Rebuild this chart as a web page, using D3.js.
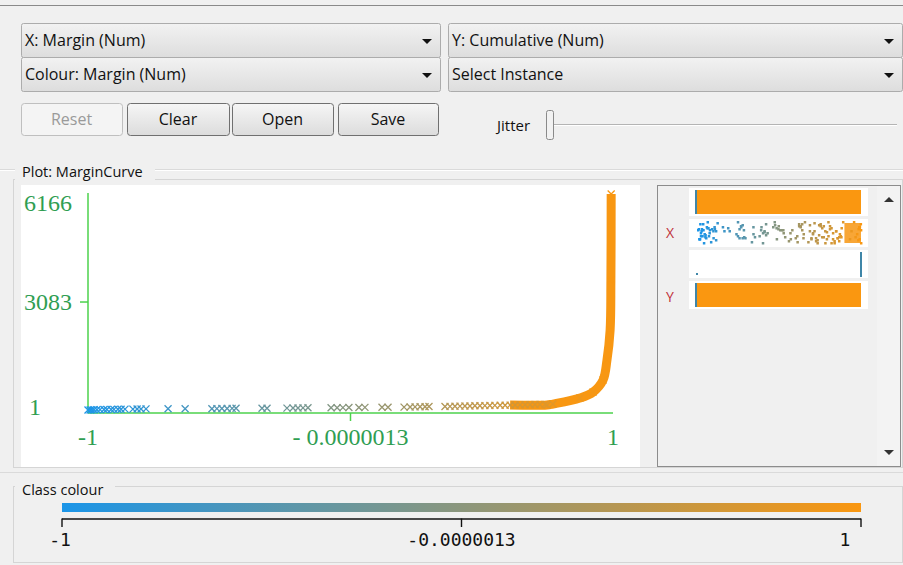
<!DOCTYPE html>
<html><head><meta charset="utf-8">
<script src="https://cdn.jsdelivr.net/npm/d3@7"></script>
<style>
html,body{margin:0;padding:0;background:#f0f0f0;}
svg{display:block;}
</style></head>
<body>
<svg id="chart" width="903" height="565"></svg>
<script>
// ---------------- data ----------------
const xTickLabels = ["-1", "- 0.0000013", "1"];
const xTickValues = [-1, -0.0000013, 1];
const yTickLabels = ["1", "3083", "6166"];
const yTickValues = [1, 3083, 6166];
const colourTickLabels = ["-1", "-0.0000013", "1"];

// sparse instances near the bottom (margin, cumulative count)
const sparseMargin = [-1.000,-0.992,-0.985,-0.977,-0.966,-0.954,-0.939,-0.928,-0.912,-0.901,-0.886,-0.874,-0.859,
  -0.829,-0.813,-0.798,-0.779,-0.695,-0.630,-0.528,-0.509,-0.490,-0.470,-0.451,-0.436,-0.337,-0.318,
  -0.242,-0.219,-0.200,-0.181,-0.162,-0.074,-0.051,-0.029,-0.006,0.032,0.055,0.120,0.143,0.204,0.227,
  0.246,0.265,0.284,0.299,0.360,0.379,0.398,0.417,0.436,0.455,0.474,0.493,0.512,0.531,0.550,0.570,
  0.589,0.608,0.627,0.646,0.665,0.684,0.703,0.722,0.741];
const sparseCumulative = [1,3,5,7,9,11,13,15,17,19,21,23,25,
  27,29,31,33,35,37,39,41,43,45,47,49,51,53,
  55,57,59,61,63,65,67,69,71,73,75,78,81,84,87,
  90,93,96,99,102,105,108,111,114,117,120,123,126,129,132,135,
  138,141,144,147,150,153,156,159,162];
// dense curve (margin, cumulative count)
const curveMargin =     [0.749, 0.771, 0.874, 0.924, 0.962, 0.977, 0.989, 0.992, 0.993];
const curveCumulative = [143,   171,   342,   513,   855,   1425,  2280,  3700,  6166];

// ---------------- drawing ----------------
const svg = d3.select("#chart");
const UI = "'Open Sans', 'Noto Sans', sans-serif";
const colour = d3.scaleLinear().domain([-1, 1]).range(["#1b95e8", "#fa9710"]).interpolate(d3.interpolateRgb);

const defs = svg.append("defs");
function vGrad(id, c1, c2){
  const g = defs.append("linearGradient").attr("id", id).attr("x1",0).attr("x2",0).attr("y1",0).attr("y2",1);
  g.append("stop").attr("offset","0%").attr("stop-color",c1);
  g.append("stop").attr("offset","100%").attr("stop-color",c2);
}
vGrad("combo", "#f2f2f2", "#dddddd");
vGrad("btn", "#f6f6f6", "#dcdcdc");

// background
svg.append("rect").attr("width",903).attr("height",565).attr("fill","#f0f0f0");
svg.append("line").attr("x1",0).attr("x2",903).attr("y1",5.5).attr("y2",5.5).attr("stroke","#8a8a8a");

// combo boxes
const combos = [
  {x:21, y:23, w:419, label:"X: Margin (Num)"},
  {x:21, y:57, w:419, label:"Colour: Margin (Num)"},
  {x:448, y:23, w:454, label:"Y: Cumulative (Num)"},
  {x:448, y:57, w:454, label:"Select Instance"}
];
combos.forEach(c => {
  svg.append("rect").attr("x",c.x+0.5).attr("y",c.y+0.5).attr("width",c.w).attr("height",34).attr("rx",2)
    .attr("fill","url(#combo)").attr("stroke","#acacac");
  svg.append("text").attr("x",c.x+4).attr("y",c.y+23).attr("font-family",UI).attr("font-size",16)
    .attr("fill","#111").text(c.label);
  const ax = c.x + c.w - 13, ay = c.y + 18;
  svg.append("path").attr("d",`M${ax-5},${ay-2}L${ax+5},${ay-2}L${ax},${ay+3}Z`).attr("fill","#111");
});

// buttons
const buttons = [
  {x:21, w:101, label:"Reset", disabled:true},
  {x:127, w:102, label:"Clear"},
  {x:232, w:101, label:"Open"},
  {x:338, w:100, label:"Save"}
];
buttons.forEach(b => {
  svg.append("rect").attr("x",b.x+0.5).attr("y",103.5).attr("width",b.w).attr("height",32).attr("rx",3)
    .attr("fill", b.disabled ? "#f4f4f4" : "url(#btn)").attr("stroke", b.disabled ? "#bfbfbf" : "#707070");
  svg.append("text").attr("x",b.x+b.w/2).attr("y",125).attr("text-anchor","middle")
    .attr("font-family",UI).attr("font-size",16).attr("fill", b.disabled ? "#9a9a9a" : "#111").text(b.label);
});

// jitter slider
svg.append("text").attr("x",497).attr("y",131).attr("font-family",UI).attr("font-size",15).attr("fill","#111").text("Jitter");
svg.append("line").attr("x1",553).attr("x2",897).attr("y1",124.5).attr("y2",124.5).attr("stroke","#b4b4b4");
svg.append("line").attr("x1",553).attr("x2",897).attr("y1",125.5).attr("y2",125.5).attr("stroke","#ffffff");
svg.append("rect").attr("x",546.5).attr("y",110.5).attr("width",7).attr("height",29).attr("rx",2)
  .attr("fill","#f2f2f2").attr("stroke","#8a8a8a");

// separator
svg.append("line").attr("x1",0).attr("x2",903).attr("y1",169.5).attr("y2",169.5).attr("stroke","#dadada");
svg.append("line").attr("x1",0).attr("x2",903).attr("y1",170.5).attr("y2",170.5).attr("stroke","#ffffff");

// plot titled border
svg.append("rect").attr("x",13.5).attr("y",179.5).attr("width",889).attr("height",288).attr("fill","none").attr("stroke","#d5d5d5");
svg.append("rect").attr("x",15).attr("y",168).attr("width",140).attr("height",14).attr("fill","#f0f0f0");
svg.append("text").attr("x",22).attr("y",177).attr("font-family",UI).attr("font-size",14.5).attr("fill","#111").text("Plot: MarginCurve");

// white plot area
svg.append("rect").attr("x",21).attr("y",185).attr("width",619).attr("height",282).attr("fill","#ffffff");

const x = d3.scaleLinear().domain([-1, 1]).range([88, 613]);
const y = d3.scaleLinear().domain([1, 6166]).range([410, 194]);
const AX = "#4cd24c", LBL = "#2f9e52";
const SERIF = "'Liberation Serif', 'Times New Roman', serif";

// axes
const g = svg.append("g");
g.append("line").attr("x1",x(-1)).attr("x2",x(-1)).attr("y1",193).attr("y2",413).attr("stroke",AX).attr("stroke-width",1.5);
g.append("line").attr("x1",x(-1)).attr("x2",x(1)).attr("y1",413).attr("y2",413).attr("stroke",AX).attr("stroke-width",1.5);
g.append("line").attr("x1",x(-1)-8).attr("x2",x(-1)).attr("y1",y(3083)).attr("y2",y(3083)).attr("stroke",AX).attr("stroke-width",1.5);
g.append("line").attr("x1",x(-0.0000013)).attr("x2",x(-0.0000013)).attr("y1",413).attr("y2",421).attr("stroke",AX).attr("stroke-width",1.5);

const yLabelY = [407, y(3083), 203];
yTickLabels.forEach((t,i) => {
  g.append("text").attr("x", i===0 ? 35 : 72).attr("y", yLabelY[i]).attr("dy","0.33em")
    .attr("text-anchor", i===0 ? "middle" : "end")
    .attr("font-family",SERIF).attr("font-size",24).attr("fill",LBL).text(t);
});
xTickLabels.forEach((t,i) => {
  g.append("text").attr("x", x(xTickValues[i])).attr("y", 437).attr("dy","0.33em").attr("text-anchor","middle")
    .attr("font-family",SERIF).attr("font-size",24).attr("fill",LBL).text(t);
});

// curve band
const curvePts = curveMargin.map((m,i) => ({m, c: curveCumulative[i]}));
const allPts = sparseMargin.map((m,i) => ({m, c: sparseCumulative[i]})).concat(curvePts);
g.append("path").datum([{m:sparseMargin[sparseMargin.length-8], c:sparseCumulative[sparseCumulative.length-8]}].concat(curvePts))
  .attr("d", d3.line().x(d => x(d.m)).y(d => y(d.c)).curve(d3.curveCatmullRom.alpha(0.5)))
  .attr("fill","none").attr("stroke",colour(0.985)).attr("stroke-width",9).attr("stroke-linejoin","round").attr("stroke-linecap","butt");

// x markers
const s = 3.5;
g.selectAll("path.mk").data(allPts).join("path").attr("class","mk")
  .attr("d", d => { const px=x(d.m), py=y(d.c);
    return `M${px-s},${py-s}L${px+s},${py+s}M${px-s},${py+s}L${px+s},${py-s}`; })
  .attr("stroke", d => colour(d.m)).attr("stroke-width",1.3).attr("fill","none");

// ---------- attribute panel ----------
svg.append("rect").attr("x",657.5).attr("y",185.5).attr("width",243).attr("height",281).attr("fill","#f0f0f0").attr("stroke","#8c8c8c");
svg.append("rect").attr("x",877).attr("y",186).attr("width",23).attr("height",280).attr("fill","#f3f3f3");
svg.append("path").attr("d","M884,202L894,202L889,197Z").attr("fill","#333");
svg.append("path").attr("d","M884,450L894,450L889,455Z").attr("fill","#333");

const ax = d3.scaleLinear().domain([-1, 1]).range([697, 859]);
const acum = d3.scaleLinear().domain([1, 6166]).range([695, 861]);
const rows = [188, 219, 250, 281];
rows.forEach(r => svg.append("rect").attr("x",689).attr("y",r).attr("width",179).attr("height",28).attr("fill","#ffffff"));

[190, 283].forEach(r => {
  svg.append("rect").attr("x",acum(1)).attr("y",r).attr("width",acum(6166)-acum(1)).attr("height",24).attr("fill",colour(1));
  svg.append("rect").attr("x",acum(1)).attr("y",r).attr("width",2).attr("height",24).attr("fill","#3f86a8");
});
// row 2: margin values, jittered (deterministic hash offsets)
const jit = i => { const v = Math.sin(i * 12.9898 + 4.1) * 43758.5453; return v - Math.floor(v); };
svg.append("rect").attr("x",ax(0.82)).attr("y",223).attr("width",ax(1)-ax(0.82)+2).attr("height",20).attr("fill",colour(0.97)).attr("opacity",0.85);
svg.selectAll("rect.xd").data(allPts).join("rect").attr("class","xd")
  .attr("x", d => ax(d.m)).attr("y", (d,i) => 221 + Math.floor(jit(i) * 22)).attr("width",2.5).attr("height",2.5)
  .attr("fill", d => colour(d.m));
svg.selectAll("rect.xd2").data(allPts).join("rect").attr("class","xd2")
  .attr("x", d => ax(d.m) + 1.5).attr("y", (d,i) => 221 + Math.floor(jit(i + 97) * 22)).attr("width",2.5).attr("height",2.5)
  .attr("fill", d => colour(d.m));
// row 3
svg.append("rect").attr("x",860).attr("y",252).attr("width",2).attr("height",25).attr("fill","#3f86a8");
svg.append("rect").attr("x",696).attr("y",273).attr("width",2).attr("height",2).attr("fill","#3f86a8");

svg.append("text").attr("x",670).attr("y",238).attr("text-anchor","middle").attr("font-family",UI).attr("font-size",14).attr("fill","#c0303a").text("X");
svg.append("text").attr("x",670).attr("y",302).attr("text-anchor","middle").attr("font-family",UI).attr("font-size",14).attr("fill","#c0303a").text("Y");

// ---------- class colour ----------
svg.append("line").attr("x1",0).attr("x2",903).attr("y1",472.5).attr("y2",472.5).attr("stroke","#dadada");
svg.append("rect").attr("x",13.5).attr("y",486.5).attr("width",889).attr("height",76).attr("fill","none").attr("stroke","#d5d5d5");
svg.append("rect").attr("x",15).attr("y",478).attr("width",100).attr("height",14).attr("fill","#f0f0f0");
svg.append("text").attr("x",22).attr("y",495).attr("font-family",UI).attr("font-size",14.5).attr("fill","#111").text("Class colour");

const cx = d3.scaleLinear().domain([-1, 1]).range([62, 861]);
const hg = defs.append("linearGradient").attr("id","cbar").attr("x1",0).attr("x2",1).attr("y1",0).attr("y2",0);
d3.range(0, 11).forEach(i => {
  const v = -1 + i*0.2;
  hg.append("stop").attr("offset", (i*10)+"%").attr("stop-color", colour(v));
});
svg.append("rect").attr("x",cx(-1)).attr("y",503).attr("width",cx(1)-cx(-1)).attr("height",9).attr("fill","url(#cbar)");
svg.append("line").attr("x1",cx(-1)).attr("x2",cx(1)).attr("y1",519).attr("y2",519).attr("stroke","#111").attr("stroke-width",1.4);
[-1, -0.0000013, 1].forEach(v => {
  svg.append("line").attr("x1",cx(v)).attr("x2",cx(v)).attr("y1",518.5).attr("y2",527).attr("stroke","#111").attr("stroke-width",1.4);
});
const MONO = "'DejaVu Sans Mono', 'Liberation Mono', monospace";
const cLabelX = [60, cx(-0.0000013), 845];
colourTickLabels.forEach((t,i) => {
  svg.append("text").attr("x",cLabelX[i]).attr("y",546).attr("text-anchor","middle")
    .attr("font-family",MONO).attr("font-size",18).attr("fill","#111").text(t);
});
</script>
</body></html>
